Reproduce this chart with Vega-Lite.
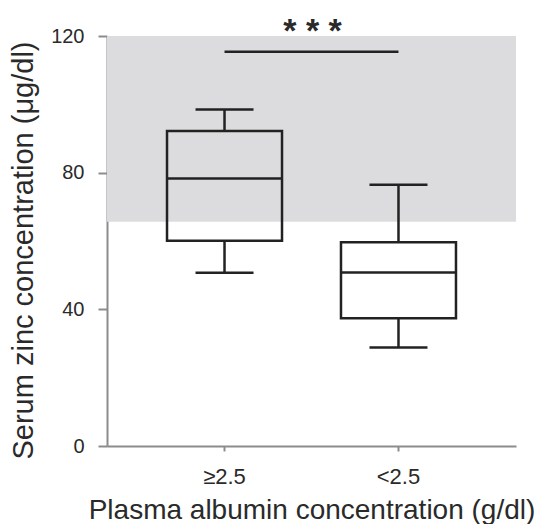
{
  "$schema": "https://vega.github.io/schema/vega-lite/v6.json",
  "autosize": "none",
  "width": 409,
  "height": 410,
  "padding": {"left": 107, "top": 36, "right": 21, "bottom": 78},
  "background": "white",
  "config": {
    "view": {"stroke": null},
    "font": "Liberation Sans",
    "axis": {"grid": false, "domainColor": "#8c8c8c", "domainWidth": 2, "tickColor": "#8c8c8c", "tickWidth": 2, "labelColor": "#2a2a2a", "titleColor": "#2a2a2a", "titleFontWeight": "normal", "labelFont": "Liberation Sans", "titleFont": "Liberation Sans"}
  },
  "datasets": {
    "boxes": [
      {"group": "≥2.5", "min": 50.7, "q1": 60.1, "median": 78.3, "q3": 92.2, "max": 98.5},
      {"group": "<2.5", "min": 28.8, "q1": 37.4, "median": 50.8, "q3": 59.6, "max": 76.5}
    ],
    "band": [{"lo": 65.6, "hi": 120}],
    "sig": [{"from": "≥2.5", "to": "<2.5", "y": 115.4, "label": "* * *", "ty": 120}]
  },
  "layer": [
    {
      "data": {"name": "band"},
      "mark": {"type": "rect", "color": "#dcdcde"},
      "encoding": {
        "x": {"value": 0},
        "x2": {"value": "width"},
        "y": {"field": "lo", "type": "quantitative", "scale": {"domain": [0, 120], "nice": false},
          "axis": {"title": "Serum zinc concentration (μg/dl)", "values": [0, 40, 80, 120], "labelFontSize": 20, "labelPadding": 14, "tickSize": 9, "titleFontSize": 29, "titleX": -84, "titleY": 214, "titleBaseline": "middle", "titleAlign": "center"}},
        "y2": {"field": "hi"}
      }
    },
    {
      "data": {"name": "boxes"},
      "encoding": {
        "x": {
          "field": "group",
          "type": "nominal",
          "scale": {"domain": ["≥2.5", "<2.5"], "paddingInner": 0.339, "paddingOuter": 0.345},
          "axis": {"title": "Plasma albumin concentration (g/dl)", "labelAngle": 0, "labelFontSize": 22, "labelBaseline": "alphabetic", "labelPadding": 32, "tickSize": 5, "titleFontSize": 28, "titleY": 72, "titleBaseline": "alphabetic"}
        }
      },
      "layer": [
        {
          "mark": {"type": "rule", "color": "#222222", "strokeWidth": 2.5},
          "encoding": {
            "y": {"field": "min", "type": "quantitative"},
            "y2": {"field": "q1"}
          }
        },
        {
          "mark": {"type": "rule", "color": "#222222", "strokeWidth": 2.5},
          "encoding": {
            "y": {"field": "q3", "type": "quantitative"},
            "y2": {"field": "max"}
          }
        },
        {
          "mark": {"type": "rect", "fill": null, "fillOpacity": 0, "stroke": "#222222", "strokeWidth": 2.5},
          "encoding": {
            "y": {"field": "q1", "type": "quantitative"},
            "y2": {"field": "q3"}
          }
        },
        {
          "mark": {"type": "tick", "color": "#222222", "thickness": 2.5, "size": 115, "opacity": 1},
          "encoding": {
            "y": {"field": "median", "type": "quantitative"}
          }
        },
        {
          "mark": {"type": "tick", "color": "#222222", "thickness": 2.5, "size": 58, "opacity": 1},
          "encoding": {
            "y": {"field": "min", "type": "quantitative"}
          }
        },
        {
          "mark": {"type": "tick", "color": "#222222", "thickness": 2.5, "size": 58, "opacity": 1},
          "encoding": {
            "y": {"field": "max", "type": "quantitative"}
          }
        }
      ]
    },
    {
      "data": {"name": "sig"},
      "layer": [
        {
          "mark": {"type": "rule", "color": "#222222", "strokeWidth": 2.5},
          "encoding": {
            "x": {"field": "from", "type": "nominal"},
            "x2": {"field": "to"},
            "y": {"field": "y", "type": "quantitative"}
          }
        },
        {
          "mark": {"type": "text", "fontSize": 34, "fontWeight": "bold", "color": "#2a2a2a", "dx": 88, "dy": 6, "baseline": "alphabetic", "align": "center"},
          "encoding": {
            "x": {"field": "from", "type": "nominal"},
            "y": {"field": "ty", "type": "quantitative"},
            "text": {"field": "label"}
          }
        }
      ]
    }
  ]
}
